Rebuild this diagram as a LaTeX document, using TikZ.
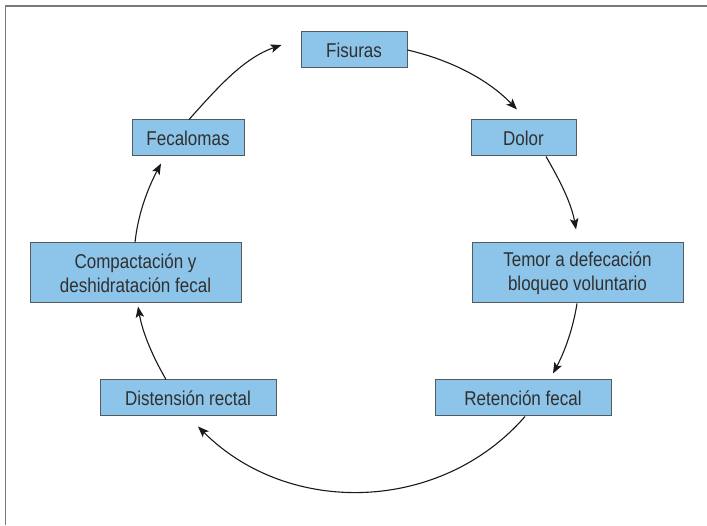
\documentclass[tikz,border=0pt]{standalone}
\usepackage{fontspec}
\setmainfont[FakeStretch=0.85]{Liberation Sans}
\usetikzlibrary{arrows.meta}
\definecolor{boxfill}{HTML}{8DC4E9}
\definecolor{boxline}{HTML}{555A5E}
\definecolor{txt}{HTML}{303030}
\definecolor{frame}{HTML}{7A7A7A}
\tikzset{
  stage/.style={draw=boxline, line width=1pt, fill=boxfill, text=txt,
    minimum height=36pt, inner sep=0pt, align=center,
    font=\fontsize{20}{24}\selectfont},
  cyc/.style={draw=black!90, line width=1.1pt,
    -{Stealth[length=11pt,width=8.5pt,inset=2.5pt]}, looseness=0.88}
}
\begin{document}
\begin{tikzpicture}[x=1pt,y=1pt]
\useasboundingbox (0,0) rectangle (707,525);
% outer frame (left and top edges)
\draw[frame, line width=1.8pt] (5.5,0) -- (5.5,519) -- (707,519);

% stages of the cycle
\node[stage, minimum width=106pt] (fis) at (354,475) {Fisuras};
\node[stage, minimum width=105pt] (dol) at (523.5,387) {Dolor};
\node[stage, minimum width=211pt, minimum height=60pt] (tem) at (577.5,252)
  {Temor a defecación\\bloqueo voluntario};
\node[stage, minimum width=176pt] (ret) at (523,127) {Retención fecal};
\node[stage, minimum width=176pt] (dis) at (188,127) {Distensión rectal};
\node[stage, minimum width=211pt, minimum height=60pt] (com) at (135.5,252)
  {Compactación y\\deshidratación fecal};
\node[stage, minimum width=112pt] (fec) at (188,387) {Fecalomas};

% free ends of the arrows, just short of each box
\coordinate (e1) at ([xshift=-6.5pt,yshift=10pt]dol.north);
\coordinate (e2) at ([xshift=-1.5pt,yshift=13pt]tem.north);
\coordinate (e3) at ([xshift=30pt,yshift=6pt]ret.north);
\coordinate (e4) at ([xshift=10pt,yshift=-10pt]dis.south);
\coordinate (e5) at ([xshift=2.5pt,yshift=-3pt]com.south);
\coordinate (e6) at ([xshift=-27pt,yshift=-7pt]fec.south);
\coordinate (e7) at ([xshift=-19pt,yshift=5pt]fis.west);

% circular cycle of arrows
\draw[cyc] (fis.east) to[out=-13,in=134] (e1);
\draw[cyc] ([xshift=22.5pt]dol.south) to[out=-60,in=100] (e2);
\draw[cyc] ([xshift=-0.5pt]tem.south) to[out=-99,in=62] (e3);
\draw[cyc, looseness=1.0] ([xshift=2pt]ret.south) to[out=-131,in=-45] (e4);
\draw[cyc] ([xshift=-22pt]dis.north) to[out=120,in=-80] (e5);
\draw[cyc] ([xshift=-0.5pt]com.north) to[out=84,in=-118] (e6);
\draw[cyc] ([xshift=1pt]fec.north) to[out=48,in=-161] (e7);
\end{tikzpicture}
\end{document}
